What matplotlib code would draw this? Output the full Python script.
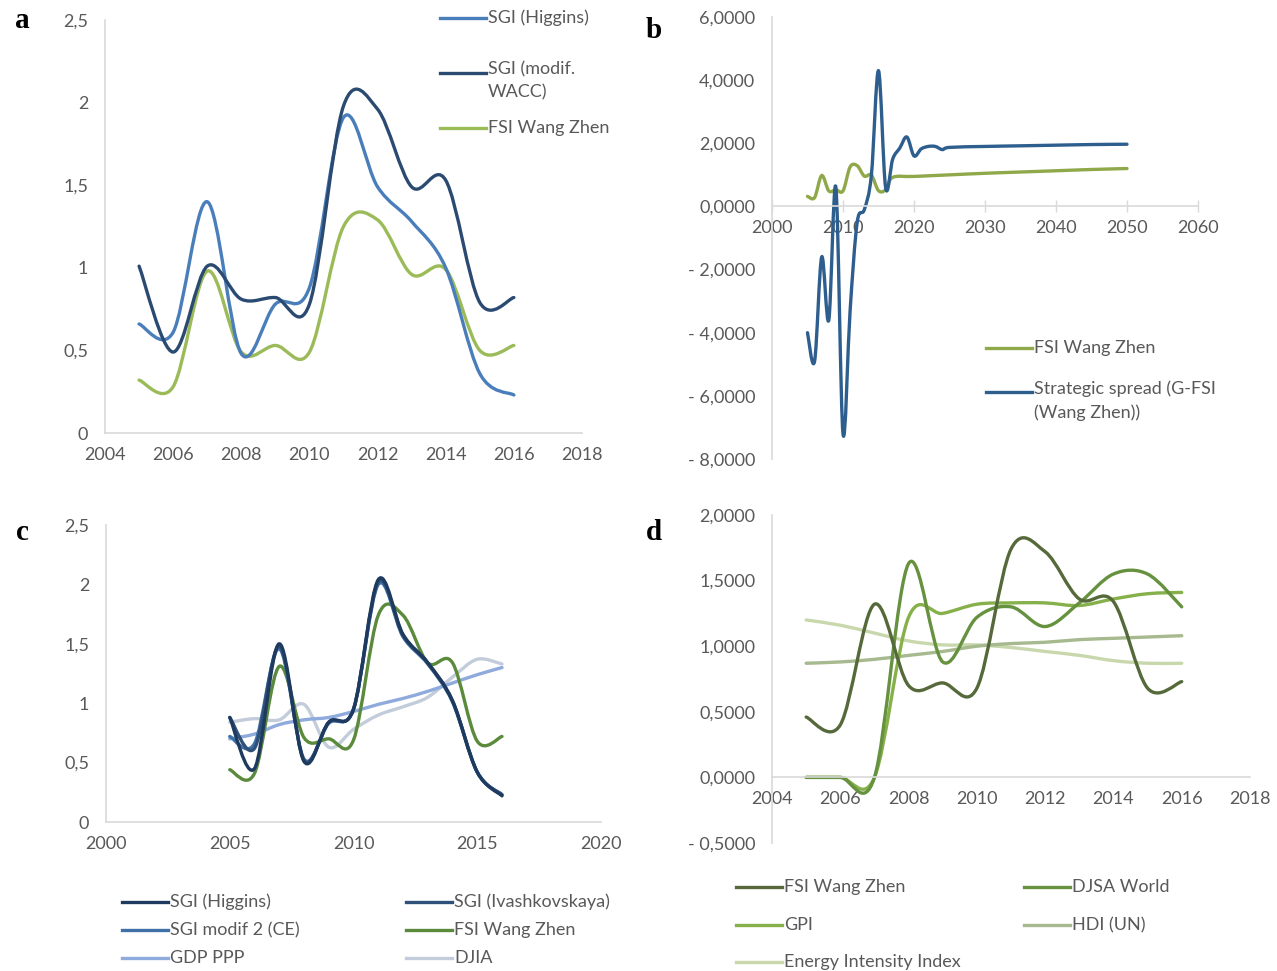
import numpy as np
import matplotlib
matplotlib.use("Agg")
import matplotlib.pyplot as plt
from matplotlib.path import Path
from matplotlib.patches import PathPatch
from matplotlib.lines import Line2D
from matplotlib.ticker import FixedLocator, FixedFormatter

plt.rcParams['font.family'] = ['Lato', 'DejaVu Sans']

# ---------------- data ----------------
years = list(range(2005, 2017))

# panel a
a_sgi_higgins = [0.66, 0.61, 1.40, 0.48, 0.78, 0.88, 1.91, 1.49, 1.28, 1.00, 0.36, 0.23]
a_sgi_wacc = [1.01, 0.49, 1.01, 0.81, 0.82, 0.78, 1.98, 1.96, 1.49, 1.53, 0.79, 0.82]
a_fsi = [0.32, 0.28, 0.98, 0.49, 0.53, 0.49, 1.25, 1.29, 0.96, 0.99, 0.50, 0.53]
a_yticks = [0, 0.5, 1, 1.5, 2, 2.5]
a_yticklabels = ["0", "0,5", "1", "1,5", "2", "2,5"]
a_xticks = [2004, 2006, 2008, 2010, 2012, 2014, 2016, 2018]

# panel b
b_fsi_years = years + [2017, 2020, 2025, 2030, 2035, 2040, 2045, 2050]
b_fsi = a_fsi + [0.92, 0.95, 1.00, 1.05, 1.09, 1.13, 1.17, 1.20]
b_spread_years = list(range(2005, 2026)) + [2030, 2035, 2040, 2045, 2050]
b_spread = [-4.0, -4.9, -1.6, -3.6, 0.6, -7.2, -3.3, -0.5, -0.1, 1.0, 4.3, 0.6,
            1.5, 1.85, 2.2, 1.6, 1.82, 1.9, 1.9, 1.8, 1.87,
            1.9, 1.92, 1.94, 1.96, 1.97]
b_yticks = [-8, -6, -4, -2, 0, 2, 4, 6]
b_yticklabels = ["- 8,0000", "- 6,0000", "- 4,0000", "- 2,0000", "0,0000", "2,0000", "4,0000", "6,0000"]
b_xticks = [2000, 2010, 2020, 2030, 2040, 2050, 2060]

# panel c
c_sgi_higgins = [0.88, 0.45, 1.50, 0.51, 0.84, 0.95, 2.04, 1.58, 1.34, 1.02, 0.42, 0.22]
c_sgi_ivash = [0.88, 0.62, 1.48, 0.52, 0.84, 0.95, 2.02, 1.57, 1.34, 1.02, 0.42, 0.23]
c_sgi_modif2 = [0.72, 0.66, 1.46, 0.53, 0.83, 0.95, 2.00, 1.56, 1.33, 1.01, 0.42, 0.23]
c_fsi = [0.44, 0.41, 1.31, 0.71, 0.70, 0.69, 1.74, 1.74, 1.34, 1.34, 0.68, 0.72]
c_gdp = [0.70, 0.74, 0.82, 0.86, 0.88, 0.93, 0.99, 1.04, 1.10, 1.17, 1.24, 1.30]
c_djia = [0.84, 0.87, 0.86, 0.99, 0.63, 0.78, 0.90, 0.97, 1.05, 1.22, 1.37, 1.33]
c_xticks = [2000, 2005, 2010, 2015, 2020]

# panel d
d_fsi = [0.46, 0.40, 1.32, 0.70, 0.72, 0.68, 1.74, 1.72, 1.36, 1.34, 0.68, 0.73]
d_djsa = [0.0, 0.0, 0.0, 1.63, 0.88, 1.22, 1.30, 1.15, 1.33, 1.55, 1.55, 1.30]
d_gpi = [0.0, 0.0, 0.0, 1.22, 1.25, 1.32, 1.33, 1.33, 1.31, 1.36, 1.40, 1.41]
d_hdi = [0.87, 0.88, 0.90, 0.93, 0.96, 1.00, 1.02, 1.03, 1.05, 1.06, 1.07, 1.08]
d_energy = [1.20, 1.16, 1.10, 1.04, 1.01, 1.01, 0.99, 0.96, 0.93, 0.89, 0.87, 0.87]
d_yticks = [-0.5, 0, 0.5, 1.0, 1.5, 2.0]
d_yticklabels = ["- 0,5000", "0,0000", "0,5000", "1,0000", "1,5000", "2,0000"]
d_xticks = [2004, 2006, 2008, 2010, 2012, 2014, 2016, 2018]

# ---------------- styling ----------------
W, H = 1277, 971
TXT = '#595959'
AXC = '#D9D9D9'
FS = 13
LW = 2.4

fig = plt.figure(figsize=(W / 100, H / 100), dpi=100)


def add_axes(left, top, right, bottom):
    return fig.add_axes([left / W, 1 - bottom / H, (right - left) / W, (bottom - top) / H])


def smooth(ax, x, y, color, lw=LW, z=2):
    x = np.asarray(x, float)
    y = np.asarray(y, float)
    n = len(x)
    verts = [(x[0], y[0])]
    codes = [Path.MOVETO]
    for i in range(n - 1):
        i0 = max(i - 1, 0)
        i3 = min(i + 2, n - 1)
        c1 = (x[i] + (x[i + 1] - x[i0]) / 6, y[i] + (y[i + 1] - y[i0]) / 6)
        c2 = (x[i + 1] - (x[i3] - x[i]) / 6, y[i + 1] - (y[i3] - y[i]) / 6)
        verts += [c1, c2, (x[i + 1], y[i + 1])]
        codes += [Path.CURVE4] * 3
    ax.add_patch(PathPatch(Path(verts, codes), facecolor='none', edgecolor=color,
                           lw=lw, capstyle='round', joinstyle='round', zorder=z))


def style(ax, xlim, ylim, xticks, yticks, yticklabels, zero=False, xtickmarks=False):
    ax.set_xlim(*xlim)
    ax.set_ylim(*ylim)
    for s in ['top', 'right']:
        ax.spines[s].set_visible(False)
    for s in ['left', 'bottom']:
        ax.spines[s].set_color(AXC)
        ax.spines[s].set_linewidth(1.2)
    if zero:
        ax.spines['bottom'].set_position(('data', 0))
    ax.xaxis.set_major_locator(FixedLocator(xticks))
    ax.xaxis.set_major_formatter(FixedFormatter([str(t) for t in xticks]))
    ax.yaxis.set_major_locator(FixedLocator(yticks))
    ax.yaxis.set_major_formatter(FixedFormatter(yticklabels))
    ax.tick_params(axis='y', length=0, pad=12, labelsize=FS, labelcolor=TXT)
    if xtickmarks:
        ax.tick_params(axis='x', direction='inout', length=8, width=1, color=AXC,
                       pad=6, labelsize=FS, labelcolor=TXT)
    else:
        ax.tick_params(axis='x', length=0, pad=10, labelsize=FS, labelcolor=TXT)
    ax.patch.set_alpha(0)


def legend_item(x, y, color, label, seg=46, multiline=False):
    fy = 1 - y / H
    fig.add_artist(Line2D([x / W, (x + seg) / W], [fy, fy], color=color, lw=LW,
                          transform=fig.transFigure))
    if multiline:
        fig.text((x + seg + 2) / W, fy + 12 / H, label, ha='left', va='top',
                 fontsize=FS, color=TXT, linespacing=1.55)
    else:
        fig.text((x + seg + 2) / W, fy, label, ha='left', va='center',
                 fontsize=FS, color=TXT)


def panel_letter(x, y, s):
    fig.text(x / W, 1 - y / H, s, ha='center', va='center', fontsize=21,
             fontweight='bold', family='Liberation Serif', color='black')


# ---------------- panel a ----------------
ax_a = add_axes(105, 20, 582, 433)
style(ax_a, (2004, 2018), (0, 2.5), a_xticks, a_yticks, a_yticklabels)
c_a = ['#4A7EBB', '#2B4A72', '#9BBB59']
smooth(ax_a, years, a_fsi, c_a[2])
smooth(ax_a, years, a_sgi_higgins, c_a[0])
smooth(ax_a, years, a_sgi_wacc, c_a[1])
legend_item(440, 18, c_a[0], "SGI (Higgins)")
legend_item(440, 73, c_a[1], "SGI (modif.\nWACC)", multiline=True)
legend_item(440, 128, c_a[2], "FSI Wang Zhen")
panel_letter(22, 20, "a")

# ---------------- panel b ----------------
ax_b = add_axes(772, 17, 1198, 459)
style(ax_b, (2000, 2060), (-8, 6), b_xticks, b_yticks, b_yticklabels, zero=True, xtickmarks=True)
c_b = ['#8FA84A', '#2E5E8E']
smooth(ax_b, b_fsi_years, b_fsi, c_b[0])
smooth(ax_b, b_spread_years, b_spread, c_b[1])
legend_item(986, 348, c_b[0], "FSI Wang Zhen")
legend_item(986, 392, c_b[1], "Strategic spread (G-FSI\n(Wang Zhen))", multiline=True)
panel_letter(654, 30, "b")

# ---------------- panel c ----------------
ax_c = add_axes(106, 525, 601, 822)
style(ax_c, (2000, 2020), (0, 2.5), c_xticks, a_yticks, a_yticklabels)
c_c = ['#1F3A5F', '#2F5079', '#3F70A8', '#5B8A3C', '#8FAADC', '#C3CCDA']
smooth(ax_c, years, c_djia, c_c[5])
smooth(ax_c, years, c_gdp, c_c[4])
smooth(ax_c, years, c_fsi, c_c[3])
smooth(ax_c, years, c_sgi_modif2, c_c[2])
smooth(ax_c, years, c_sgi_ivash, c_c[1])
smooth(ax_c, years, c_sgi_higgins, c_c[0])
labels_c = ["SGI (Higgins)", "SGI (Ivashkovskaya)", "SGI modif 2 (CE)", "FSI Wang Zhen", "GDP PPP", "DJIA"]
rows_c = [902, 930, 958]
for i, lab in enumerate(labels_c):
    legend_item([122, 406][i % 2], rows_c[i // 2], c_c[i], lab)
panel_letter(22, 533, "c")

# ---------------- panel d ----------------
ax_d = add_axes(772, 515, 1250, 843)
style(ax_d, (2004, 2018), (-0.5, 2.0), d_xticks, d_yticks, d_yticklabels, zero=True)
c_d = ['#55693A', '#66913F', '#86B04A', '#A7B98F', '#C8D8AC']
smooth(ax_d, years, d_energy, c_d[4])
smooth(ax_d, years, d_hdi, c_d[3])
smooth(ax_d, years, d_gpi, c_d[2])
smooth(ax_d, years, d_djsa, c_d[1])
smooth(ax_d, years, d_fsi, c_d[0])
labels_d = ["FSI Wang Zhen", "DJSA World", "GPI", "HDI (UN)", "Energy Intensity Index"]
rows_d = [887, 925, 962]
for i, lab in enumerate(labels_d):
    legend_item([736, 1024][i % 2], rows_d[i // 2], c_d[i], lab)
panel_letter(654, 533, "d")

fig.savefig("out.png", dpi=100, facecolor='white')
